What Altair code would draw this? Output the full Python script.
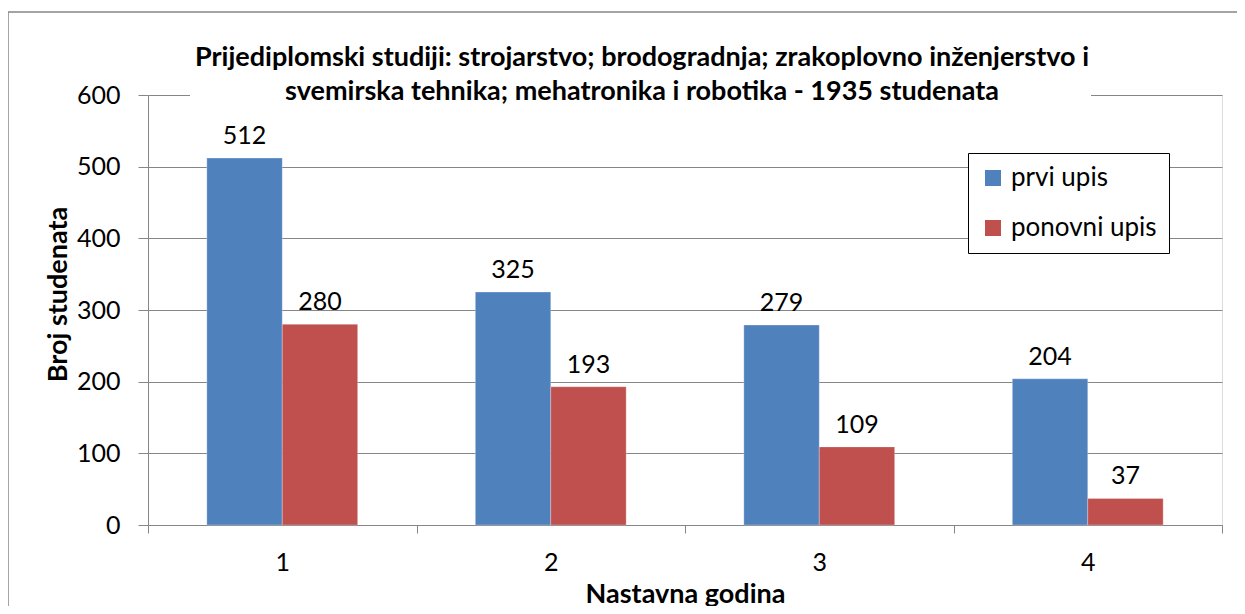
import altair as alt
import pandas as pd

years = ["1", "2", "3", "4"]
prvi_upis = [512, 325, 279, 204]
ponovni_upis = [280, 193, 109, 37]
series_names = ["prvi upis", "ponovni upis"]
series_colors = ["#4F81BD", "#C0504D"]
y_ticks = [0, 100, 200, 300, 400, 500, 600]
title_lines = [
    "Prijediplomski studiji: strojarstvo; brodogradnja; zrakoplovno inženjerstvo i",
    "svemirska tehnika; mehatronika i robotika - 1935 studenata",
]

rows = []
for i, y in enumerate(years):
    rows.append({"godina": y, "serija": series_names[0], "broj": prvi_upis[i]})
    rows.append({"godina": y, "serija": series_names[1], "broj": ponovni_upis[i]})
df = pd.DataFrame(rows)

FONT = "Lato"
GRAY = "#868686"
W, H = 1074, 430

x_enc = alt.X(
    "godina:N",
    sort=years,
    scale=alt.Scale(paddingInner=0, paddingOuter=0),
    axis=alt.Axis(
        title="Nastavna godina",
        labelAngle=0,
        tickBand="extent",
        tickSize=8,
        tickColor=GRAY,
        domainColor=GRAY,
        labelFont=FONT,
        labelFontSize=25,
        labelColor="black",
        labelPadding=17,
        titleFont=FONT,
        titleFontSize=27,
        titleFontWeight="bold",
        titleColor="black",
        titlePadding=6,
        grid=False,
    ),
)
xoff_enc = alt.XOffset(
    "serija:N",
    sort=series_names,
    scale=alt.Scale(paddingInner=0, paddingOuter=0.78),
)
y_enc = alt.Y(
    "broj:Q",
    scale=alt.Scale(domain=[0, 600], nice=False),
    axis=alt.Axis(
        values=y_ticks,
        title="Broj studenata",
        tickSize=10,
        tickColor=GRAY,
        domainColor=GRAY,
        gridColor=GRAY,
        labelFont=FONT,
        labelFontSize=25,
        labelColor="black",
        labelPadding=18,
        titleFont=FONT,
        titleFontSize=27,
        titleFontWeight="bold",
        titleColor="black",
        titleAngle=270,
        titleX=-90,
        titleY=199,
        titleAlign="center",
        titleBaseline="middle",
    ),
)

border = alt.Chart(alt.Data(values=[{"a": 1}])).mark_rect(
    fillOpacity=0, stroke=GRAY, strokeWidth=1.5
).encode(
    x=alt.value(-140), x2=alt.value(1300), y=alt.value(-83), y2=alt.value(700)
)

title_bg = alt.Chart(alt.Data(values=[{"a": 1}])).mark_rect(
    fill="white"
).encode(
    x=alt.value(42), x2=alt.value(943), y=alt.value(-60), y2=alt.value(8)
)

bars = alt.Chart(df).mark_bar(stroke="white", strokeOpacity=0.35, strokeWidth=0.8).encode(
    x=x_enc,
    xOffset=xoff_enc,
    y=y_enc,
    color=alt.Color(
        "serija:N",
        sort=series_names,
        scale=alt.Scale(domain=series_names, range=series_colors),
        legend=alt.Legend(
            title=None,
            orient="none",
            legendX=820,
            legendY=58,
            symbolType="square",
            symbolSize=256,
            symbolStrokeWidth=0,
            labelFont=FONT,
            labelFontSize=26,
            labelColor="black",
            labelOffset=5,
            rowPadding=24,
            padding=12,
            strokeColor="black",
            fillColor="white",
        ),
    ),
)

labels = alt.Chart(df).mark_text(
    font=FONT, fontSize=25, color="black", baseline="alphabetic", dy=-14
).encode(
    x=alt.X("godina:N", sort=years),
    xOffset=alt.XOffset("serija:N", sort=series_names),
    y=alt.Y("broj:Q"),
    text=alt.Text("broj:Q"),
)

chart = alt.layer(border, title_bg, bars, labels).properties(
    width=W,
    height=H,
    title=alt.TitleParams(
        text=title_lines,
        font=FONT,
        fontSize=27,
        fontWeight="bold",
        color="black",
        anchor="middle",
        dx=-43,
        dy=83,
        lineHeight=34,
        offset=-12,
    ),
    autosize=alt.AutoSizeParams(type="none"),
    padding={"left": 140, "top": 87, "right": 15, "bottom": 81},
).configure_view(stroke=None).configure(background="white")

chart.save("out.html", embed_options={"renderer": "svg", "actions": False})
